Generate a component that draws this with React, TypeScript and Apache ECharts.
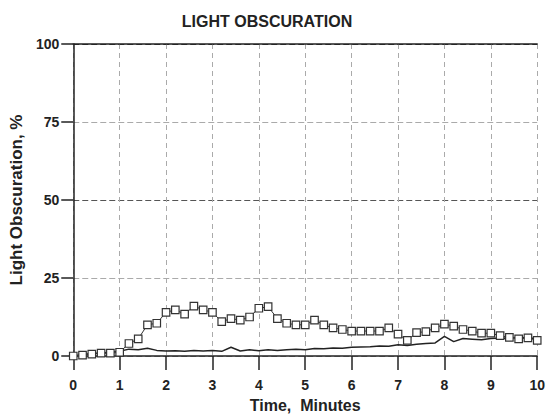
import React, { useEffect, useRef } from "react";
import * as echarts from "echarts";

const times = [
  0, 0.2, 0.4, 0.6, 0.8, 1.0, 1.2, 1.4, 1.6, 1.8, 2.0, 2.2, 2.4, 2.6, 2.8, 3.0, 3.2, 3.4, 3.6, 3.8,
  4.0, 4.2, 4.4, 4.6, 4.8, 5.0, 5.2, 5.4, 5.6, 5.8, 6.0, 6.2, 6.4, 6.6, 6.8, 7.0, 7.2, 7.4, 7.6, 7.8,
  8.0, 8.2, 8.4, 8.6, 8.8, 9.0, 9.2, 9.4, 9.6, 9.8, 10.0,
];

const squareSeries = [
  0, 0.3, 0.6, 0.9, 0.9, 1.2, 4, 5.5, 10, 10.5, 14, 14.8, 13.4, 16, 14.8, 14, 11, 12, 11.5, 12.5,
  15.3, 15.8, 12, 10.5, 10, 10, 11.5, 10, 9, 8.5, 8, 8, 8, 8, 9, 7, 5, 7.5, 7.8, 9,
  10.2, 9.6, 8.5, 8, 7.3, 7.3, 6.5, 6, 5.5, 5.8, 5,
];

const lineSeries = [
  0, 0.5, 0.8, 1.0, 1.2, 1.5, 2.2, 2.0, 2.5, 1.8, 1.6, 1.7, 1.5, 1.8, 1.6, 1.8, 1.5, 2.8, 1.6, 2.0,
  1.7, 2.0, 1.8, 2.0, 2.2, 2.0, 2.4, 2.3, 2.6, 2.5, 2.8, 2.9, 3.0, 3.2, 3.1, 3.6, 3.4, 3.8, 4.0, 4.2,
  6.3, 4.6, 5.6, 5.4, 5.2, 5.6, 5.8, 5.7, 6.0, 5.8, 5.6,
];

const yTicks = [0, 25, 50, 75, 100];

const FONT = "'Liberation Sans', Arial, sans-serif";
const INK = "#222";

export default function App() {
  const ref = useRef<HTMLDivElement>(null);
  useEffect(() => {
    if (!ref.current) return;
    const chart = echarts.init(ref.current, null, { renderer: "svg" });
    chart.setOption({
      animation: false,
      backgroundColor: "#fff",
      title: {
        text: "LIGHT OBSCURATION",
        left: 262,
        textAlign: "center",
        top: 8,
        textStyle: { fontFamily: FONT, fontSize: 16, fontWeight: "bold", color: INK },
      },
      grid: { left: 72, right: 8, top: 44, bottom: 61 },
      xAxis: [
        {
          type: "value",
          min: 0,
          max: 10,
          interval: 1,
          name: "Time,  Minutes",
          nameLocation: "middle",
          nameGap: 41,
          nameTextStyle: { fontFamily: FONT, fontSize: 16, fontWeight: "bold", color: INK },
          axisLine: { show: true, lineStyle: { color: INK, width: 1.5 } },
          axisTick: { show: true, length: 14, lineStyle: { color: INK, width: 1.5 } },
          axisLabel: { margin: 22, fontFamily: FONT, fontSize: 14, fontWeight: "bold", color: INK },
          splitLine: { show: true, lineStyle: { color: "#aaa", type: [5, 4], width: 1 } },
        },
        {
          type: "value",
          position: "top",
          min: 0,
          max: 10,
          interval: 1,
          axisLine: { show: true, lineStyle: { color: INK, width: 1.5 } },
          axisTick: { show: false },
          axisLabel: { show: false },
          splitLine: { show: false },
        },
      ],
      yAxis: {
        type: "value",
        min: 0,
        max: 100,
        interval: 25,
        name: "Light Obscuration, %",
        nameLocation: "middle",
        nameGap: 41,
        nameTextStyle: { fontFamily: FONT, fontSize: 17, fontWeight: "bold", color: INK },
        axisLine: { show: true, lineStyle: { color: INK, width: 1.5 } },
        axisTick: { show: true, length: 12, lineStyle: { color: INK, width: 1.5 } },
        axisLabel: {
          margin: 14,
          fontFamily: FONT,
          fontSize: 14,
          fontWeight: "bold",
          color: INK,
          formatter: (v: number) => (yTicks.includes(v) ? String(v) : ""),
        },
        splitLine: {
          show: true,
          lineStyle: { color: ["#999", "#aaa", "#555", "#aaa", "#333"], type: [6, 3], width: 1.2 },
        },
      },
      series: [
        {
          type: "line",
          data: times.map((t, i) => [t, squareSeries[i]]),
          symbol: "rect",
          symbolSize: 7.5,
          itemStyle: { color: "#fff", borderColor: "#333", borderWidth: 1.2 },
          lineStyle: { color: "#333", width: 1 },
          z: 3,
        },
        {
          type: "line",
          data: times.map((t, i) => [t, lineSeries[i]]),
          showSymbol: false,
          symbol: "none",
          lineStyle: { color: "#222", width: 1.5 },
          z: 2,
        },
      ],
    });
    return () => chart.dispose();
  }, []);
  return <div ref={ref} style={{ width: 548, height: 418, position: "absolute", left: 0, top: 0 }} />;
}
